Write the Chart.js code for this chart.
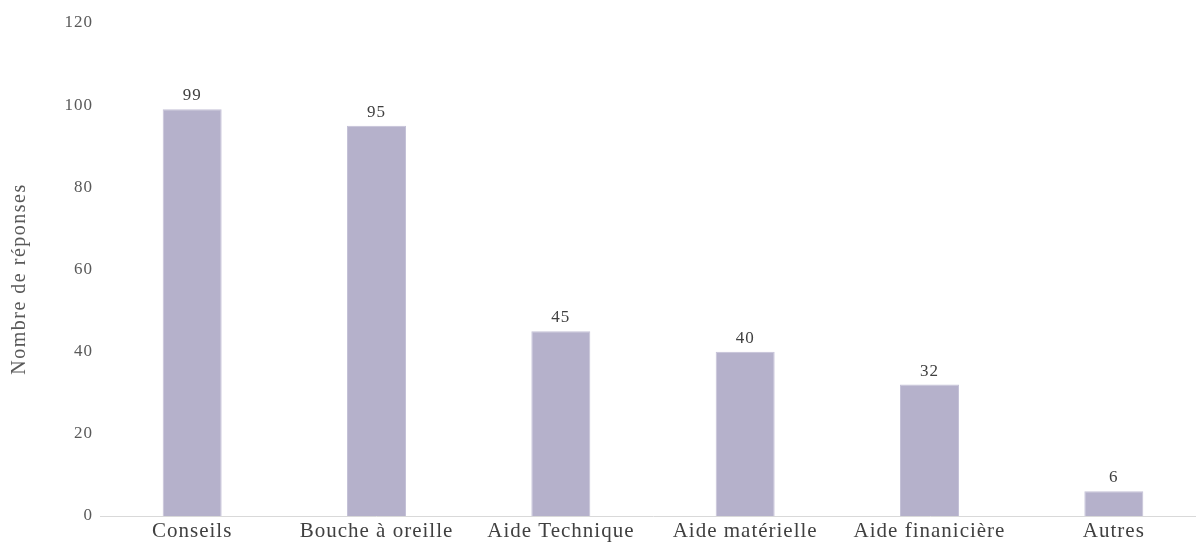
<!DOCTYPE html>
<html>
<head>
<meta charset="utf-8">
<script src="https://cdn.jsdelivr.net/npm/chart.js@4/dist/chart.umd.min.js"></script>
<style>
  html, body { margin: 0; padding: 0; background: #fff; overflow: hidden; }
  #wrap { width: 1206px; height: 544px; }
</style>
</head>
<body>
<div id="wrap"><canvas id="myChart"></canvas></div>
<script>
  // data
  const categories = ["Conseils", "Bouche à oreille", "Aide Technique", "Aide matérielle", "Aide finanicière", "Autres"];
  const responses = [99, 95, 45, 40, 32, 6];
  const yTicks = [0, 20, 40, 60, 80, 100, 120];
  const yTitle = "Nombre de réponses";

  const serif = "'Liberation Serif', 'Times New Roman', serif";

  // small letter spacing like the original
  const spacing = {
    id: "spacing",
    beforeDraw: (chart) => {
      chart.ctx.letterSpacing = "1px";
    },
  };

  // value labels above the bars + y axis title
  const valueLabels = {
    id: "valueLabels",
    afterDatasetsDraw: (chart) => {
      const ctx = chart.ctx;
      const meta = chart.getDatasetMeta(0);
      ctx.save();
      ctx.letterSpacing = "1px";
      ctx.font = "17px " + serif;
      ctx.fillStyle = "#404040";
      ctx.textAlign = "center";
      ctx.textBaseline = "bottom";
      meta.data.forEach((bar, i) => {
        ctx.fillText(responses[i], bar.x, bar.y - 5);
      });
      ctx.restore();

      // y title
      ctx.save();
      ctx.letterSpacing = "1.5px";
      ctx.font = "20px " + serif;
      ctx.fillStyle = "#595959";
      ctx.textAlign = "center";
      ctx.textBaseline = "middle";
      ctx.translate(20, 279);
      ctx.rotate(-Math.PI / 2);
      ctx.fillText(yTitle, 0, 0);
      ctx.restore();
    },
  };

  const data = {
    labels: categories,
    datasets: [
      {
        label: yTitle,
        backgroundColor: "rgb(181, 177, 203)",
        borderColor: "rgb(196, 193, 215)",
        borderWidth: 1,
        data: responses,
        categoryPercentage: 1,
        barPercentage: 0.32,
      },
    ],
  };

  const config = {
    type: "bar",
    data: data,
    plugins: [spacing, valueLabels],
    options: {
      responsive: true,
      maintainAspectRatio: false,
      animation: false,
      layout: {
        padding: { top: 23, right: 0, bottom: 0, left: 0 },
      },
      plugins: {
        legend: { display: false },
        tooltip: { enabled: false },
      },
      scales: {
        x: {
          grid: { display: false, drawTicks: false },
          border: { display: true, color: "#d9d9d9", width: 1 },
          ticks: {
            color: "#404040",
            font: { family: serif, size: 21 },
            padding: 3,
            maxRotation: 0,
            autoSkip: false,
          },
          afterFit: (scale) => {
            scale.height = 28;
          },
        },
        y: {
          min: 0,
          max: 120,
          grid: { display: false, drawTicks: false },
          border: { display: false },
          afterBuildTicks: (scale) => {
            scale.ticks = yTicks.map((v) => ({ value: v }));
          },
          ticks: {
            color: "#595959",
            font: { family: serif, size: 17 },
            padding: 7,
          },
          afterFit: (scale) => {
            scale.width = 100;
          },
        },
      },
    },
  };

  const myChart = new Chart(document.getElementById("myChart"), config);
</script>
</body>
</html>
